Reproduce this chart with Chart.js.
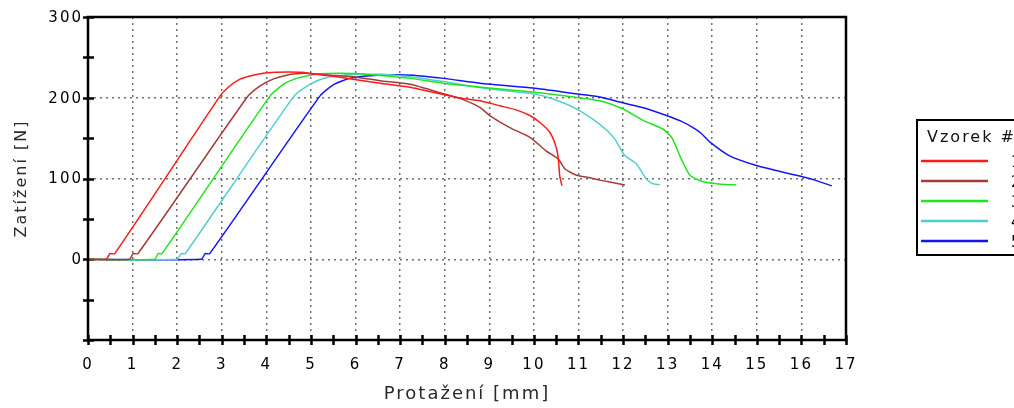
<!DOCTYPE html>
<html><head><meta charset="utf-8">
<script src="https://cdn.jsdelivr.net/npm/chart.js@4.4.1/dist/chart.umd.min.js"></script>
<style>html,body{margin:0;padding:0;background:#fff;overflow:hidden}#wrap{width:1014px;height:408px;position:relative}</style>
</head><body><div id="wrap"><canvas id="c" width="1014" height="408"></canvas></div>
<script>
// ---- data ----
const legendTitle = 'Vzorek #';
const seriesNames = ['1', '2', '3', '4', '5'];
const xTitle = 'Protažení [mm]';
const yTitle = 'Zatížení [N]';
const xTickLabels = [0,1,2,3,4,5,6,7,8,9,10,11,12,13,14,15,16,17];
const yTickLabels = [0, 100, 200, 300];

const s1x = [0,0.41,0.49,0.6,2.96,3.18,3.41,3.63,3.93,4.2,4.5,4.8,4.98,5.45,5.94,6.55,7.22,7.97,8.4,8.79,9.24,9.6,9.91,10.13,10.36,10.49,10.55,10.58,10.63];
const s1y = [0,0,7,7,202,214.6,223,227,230.4,231.6,232,231.6,230,227,223,218,213,204,199,196.4,190,185,178,169.6,157,140.6,124,103,91];

const s2x = [0,0.93,1.01,1.12,3.56,3.86,4.15,4.45,4.82,4.98,5.45,5.94,6.55,7.22,7.97,8.4,8.79,9.01,9.46,9.91,10.28,10.55,10.7,10.96,11.26,11.48,12.04];
const s2y = [0,0,7,7,200,214.6,223,228,230.4,230,228,226,221,216.6,205,198,188,178,163,151,134,124,111.7,104,101,98,92];

const s3x = [0,1.5,1.57,1.66,4.08,4.38,4.68,4.98,5.35,5.94,6.55,7.22,7.97,9.0,9.98,10.93,11.5,12.0,12.45,12.9,13.1,13.3,13.5,13.8,14.2,14.54];
const s3y = [0,0,7,7,202,216.6,224,228,230,230,227.5,224,218,212,207,200.6,196,186,172,161,150,125,104,96,93,92];

const s4x = [0,2.0,2.09,2.18,4.62,4.98,5.35,5.72,6.1,6.6,7.22,7.97,8.97,9.98,10.4,10.96,11.48,11.8,12.03,12.3,12.53,12.65,12.82];
const s4y = [0,0,7,7,202,216.6,225,228,229,229,226,220,211,205,199,186,167,150,129,118,99,94,92];

const s5x = [0,2.54,2.63,2.73,5.2,5.5,5.87,6.25,6.77,7.3,7.97,8.97,9.98,10.93,11.48,11.97,12.5,12.97,13.3,13.57,13.75,13.95,14.39,14.99,15.5,15.96,16.3,16.68];
const s5y = [0,0,7,7,202,216,224,227,228.5,228,224,217,212,205,201,194,187,178,171,163,156,145,128,116,109,103,98,91];

const seriesColors = ['#ff1a1a', '#a53a3a', '#1ee61e', '#4fd0cc', '#1414f5'];
// ---------------------------------------

const xs = [s1x, s2x, s3x, s4x, s5x];
const ys = [s1y, s2y, s3y, s4y, s5y];
const FONT = "'DejaVu Sans', Verdana, sans-serif";

const datasets = seriesNames.map((n, i) => ({
  label: n,
  data: xs[i].map((x, j) => ({x: x, y: ys[i][j]})),
  showLine: true,
  borderColor: seriesColors[i],
  backgroundColor: seriesColors[i],
  borderWidth: 1.5,
  pointRadius: 0,
  tension: 0.2,
  fill: false
}));

const spacingPlugin = {
  id: 'spacing',
  beforeLayout(chart) { chart.ctx.letterSpacing = '2px'; },
  beforeDraw(chart) { chart.ctx.letterSpacing = '2px'; }
};

const framePlugin = {
  id: 'frame',
  beforeDatasetsDraw(chart) {
    const {ctx, chartArea: a, scales} = chart;
    ctx.save();
    ctx.strokeStyle = '#000';
    ctx.lineWidth = 2.5;
    scales.y.ticks.forEach(t => {
      const py = Math.round(scales.y.getPixelForValue(t.value)) + 0.5;
      ctx.beginPath(); ctx.moveTo(a.left - 5, py); ctx.lineTo(a.left + 6, py); ctx.stroke();
    });
    scales.x.ticks.forEach(t => {
      const px = Math.round(scales.x.getPixelForValue(t.value)) + 0.5;
      ctx.beginPath(); ctx.moveTo(px, a.bottom - 5); ctx.lineTo(px, a.bottom + 5); ctx.stroke();
    });
    ctx.restore();
  },
  afterDraw(chart) {
    const {ctx, chartArea: a} = chart;
    ctx.save();
    ctx.strokeStyle = '#000';
    ctx.lineWidth = 2.5;
    ctx.strokeRect(a.left, a.top, a.right - a.left, a.bottom - a.top);
    // legend
    ctx.lineWidth = 2;
    const lx = a.right + 71, ly = a.top + 103;
    ctx.strokeRect(lx, ly, 200, 135);
    ctx.letterSpacing = '2px';
    ctx.fillStyle = '#111';
    ctx.font = '16px ' + FONT;
    ctx.textBaseline = 'alphabetic';
    ctx.textAlign = 'left';
    ctx.fillText(legendTitle, lx + 10, ly + 22);
    seriesNames.forEach((n, i) => {
      const yy = ly + 41 + i * 20;
      ctx.strokeStyle = seriesColors[i];
      ctx.lineWidth = 2.6;
      ctx.beginPath(); ctx.moveTo(lx + 4, yy); ctx.lineTo(lx + 71, yy); ctx.stroke();
      ctx.fillStyle = '#000';
      ctx.font = '15px ' + FONT;
      ctx.fillText(n, lx + 94, yy + 6);
    });
    ctx.restore();
  }
};

new Chart(document.getElementById('c'), {
  type: 'scatter',
  data: {datasets},
  plugins: [spacingPlugin, framePlugin],
  options: {
    responsive: false,
    animation: false,
    devicePixelRatio: 1,
    layout: {padding: {left: 0, right: 168, top: 17, bottom: 0}},
    plugins: {legend: {display: false}, tooltip: {enabled: false}},
    scales: {
      x: {
        type: 'linear', min: 0, max: 17,
        afterFit: s => { s.height = 68; },
        ticks: {
          stepSize: 0.5, autoSkip: false, maxRotation: 0, padding: 16,
          color: '#000', font: {family: FONT, size: 15},
          callback: v => xTickLabels.includes(v) ? String(v) : ''
        },
        grid: {
          drawTicks: false, lineWidth: 1.5,
          color: c => (c.tick && Number.isInteger(c.tick.value) && c.tick.value > 0 && c.tick.value < 17) ? '#707070' : 'rgba(0,0,0,0)'
        },
        border: {display: false, dash: [2, 4]},
        title: {display: true, text: xTitle, color: '#2a2a2a', font: {family: FONT, size: 18}, padding: {top: 0, bottom: 3}}
      },
      y: {
        type: 'linear', min: -100, max: 300,
        afterFit: s => { s.width = 88; },
        ticks: {
          stepSize: 50, autoSkip: false, padding: 5, labelOffset: 1,
          color: '#000', font: {family: FONT, size: 15},
          callback: v => yTickLabels.includes(v) ? String(v) : ''
        },
        grid: {
          drawTicks: false, lineWidth: 1.5,
          color: c => (c.tick && [0, 100, 200].includes(c.tick.value)) ? '#707070' : 'rgba(0,0,0,0)'
        },
        border: {display: false, dash: [2, 4]},
        title: {display: true, text: yTitle, color: '#2a2a2a', font: {family: FONT, size: 16}, padding: {top: 12, bottom: 0}}
      }
    }
  }
});
</script>
</body></html>
